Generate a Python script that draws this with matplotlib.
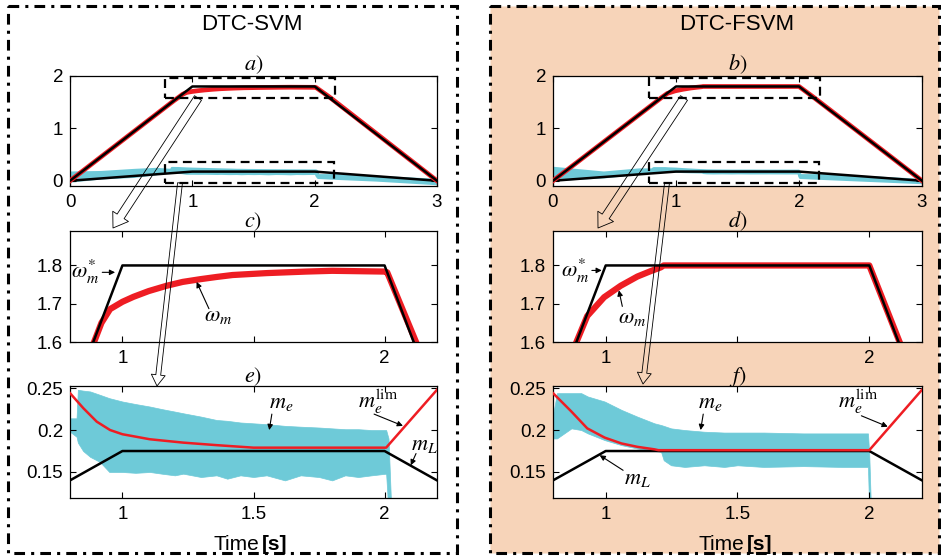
import matplotlib
matplotlib.use("Agg")
import matplotlib.pyplot as plt
from matplotlib.patches import Rectangle, FancyArrowPatch

plt.rcParams['font.family'] = ['Liberation Sans', 'DejaVu Sans']
plt.rcParams['mathtext.fontset'] = 'stix'

# ---------------- data ----------------
t_ref = [0, 1, 2, 3]
w_ref = [0, 1.8, 1.8, 0]
mL_ref = [0, 0.175, 0.175, 0]

t_w_svm = [0, 0.8, 0.85, 0.893, 0.92, 0.953, 1.0, 1.042, 1.1, 1.169, 1.23, 1.296,
           1.36, 1.42, 1.55, 1.7, 1.8, 2.0, 2.01, 2.12, 3.0]
w_svm = [0, 1.44, 1.53, 1.602, 1.65, 1.686, 1.705, 1.718, 1.733, 1.747, 1.757, 1.764,
         1.77, 1.775, 1.78, 1.784, 1.786, 1.784, 1.782, 1.6, 0.0]

t_w_fsvm = [0, 0.8, 0.85, 0.886, 0.93, 0.994, 1.057, 1.12, 1.17, 1.209, 1.22, 2.0, 2.115, 3.0]
w_fsvm = [0, 1.44, 1.53, 1.595, 1.668, 1.717, 1.747, 1.771, 1.785, 1.795, 1.8, 1.8, 1.6, 0.0]

t_lim_svm = [0.8, 0.851, 0.902, 0.953, 1.0, 1.105, 1.232, 1.359, 1.5, 1.68, 2.006, 2.2]
lim_svm = [0.244, 0.226, 0.21, 0.2, 0.195, 0.189, 0.185, 0.182, 0.179, 0.179, 0.179, 0.248]

t_lim_fsvm = [0.8, 0.87, 0.93, 0.996, 1.06, 1.12, 1.185, 1.2, 2.0, 2.2]
lim_fsvm = [0.244, 0.222, 0.202, 0.191, 0.184, 0.18, 0.177, 0.176, 0.176, 0.248]

# electromagnetic torque band (upper / lower envelope of the ripple)
t_me_svm = [0.0, 0.25, 0.52, 0.70, 0.80, 0.825, 0.83, 0.85, 0.877, 0.914, 0.95, 1.0,
            1.05, 1.105, 1.15, 1.2, 1.232, 1.3, 1.359, 1.4, 1.45, 1.5, 1.55, 1.62,
            1.68, 1.75, 1.8, 1.85, 1.9, 1.95, 2.006, 2.015, 2.025, 2.2, 2.5, 3.0]
me_up_svm = [0.16, 0.17, 0.21, 0.23, 0.214, 0.214, 0.248, 0.247, 0.246, 0.242, 0.238, 0.234,
             0.231, 0.228, 0.225, 0.222, 0.22, 0.216, 0.212, 0.211, 0.209, 0.208, 0.207, 0.205,
             0.204, 0.203, 0.202, 0.201, 0.201, 0.2, 0.2, 0.19, 0.11, 0.11, 0.08, 0.02]
me_lo_svm = [0.0, 0.06, 0.09, 0.14, 0.198, 0.192, 0.185, 0.175, 0.168, 0.162, 0.15, 0.15,
             0.149, 0.15, 0.148, 0.146, 0.148, 0.144, 0.146, 0.142, 0.146, 0.144, 0.146, 0.14,
             0.146, 0.144, 0.14, 0.146, 0.144, 0.146, 0.148, 0.10, 0.07, 0.05, 0.02, -0.05]

t_me_fsvm = [0.0, 0.41, 0.70, 0.80, 0.815, 0.87, 0.907, 0.932, 0.996, 1.06, 1.12, 1.185,
             1.21, 1.22, 1.248, 1.3, 1.374, 1.45, 1.5, 1.6, 1.75, 1.9, 1.995, 2.0, 2.006,
             2.2, 2.5, 3.0]
me_up_fsvm = [0.25, 0.16, 0.22, 0.218, 0.244, 0.244, 0.244, 0.24, 0.234, 0.224, 0.216, 0.208,
              0.206, 0.205, 0.202, 0.2, 0.198, 0.197, 0.197, 0.197, 0.196, 0.196, 0.196, 0.17, 0.11,
              0.11, 0.08, 0.02]
me_lo_fsvm = [0.03, 0.08, 0.15, 0.19, 0.19, 0.202, 0.2, 0.196, 0.188, 0.182, 0.178, 0.175,
              0.174, 0.164, 0.158, 0.156, 0.158, 0.156, 0.158, 0.156, 0.157, 0.156, 0.156, 0.10, 0.07,
              0.05, 0.02, -0.03]

RED = '#ee1d23'
CYAN = '#6ecad8'
PEACH = '#f7d4b9'

W, H = 941, 558
fig = plt.figure(figsize=(W / 100, H / 100), dpi=100)

# background (frames)
bg = fig.add_axes([0, 0, 1, 1], zorder=-1)
bg.set_xlim(0, W); bg.set_ylim(H, 0); bg.axis('off')
dashdot = (0, (3.5, 2, 1, 2))
bg.add_patch(Rectangle((8, 6), 449, 547, fill=False, ec='k', lw=2.2, ls=dashdot))
bg.add_patch(Rectangle((490, 6), 449, 547, fc=PEACH, ec='k', lw=2.2, ls=dashdot))
bg.text(252, 25, 'DTC-SVM', ha='center', va='center', fontsize=16)
bg.text(737, 25, 'DTC-FSVM', ha='center', va='center', fontsize=16)
for xr, xl in [(259, 262), (744, 747)]:
    bg.text(xr, 545, 'Time', ha='right', va='center', fontsize=15)
    bg.text(xl, 545, '[s]', ha='left', va='center', fontsize=15, fontweight='bold')


def px_axes(x0, y0, x1, y1):
    return fig.add_axes([x0 / W, 1 - y1 / H, (x1 - x0) / W, (y1 - y0) / H])


def style(ax):
    ax.tick_params(direction='in', top=True, right=True, length=4, width=0.8, labelsize=13.5)
    ax.tick_params(axis='x', pad=6)
    ax.tick_params(axis='y', pad=5)
    for s in ax.spines.values():
        s.set_linewidth(0.9)


MS = 16
ann_kw = dict(arrowprops=dict(arrowstyle='-|>', color='k', lw=0.8, mutation_scale=8, shrinkA=0, shrinkB=0))

cols = [
    dict(x0=70, x1=437, tw=t_w_svm, w=w_svm, tl=t_lim_svm, lim=lim_svm, tm=t_me_svm,
         up=me_up_svm, lo=me_lo_svm, lab=['a', 'c', 'e']),
    dict(x0=553, x1=922, tw=t_w_fsvm, w=w_fsvm, tl=t_lim_fsvm, lim=lim_fsvm, tm=t_me_fsvm,
         up=me_up_fsvm, lo=me_lo_fsvm, lab=['b', 'd', 'f']),
]

for i, c in enumerate(cols):
    # --- overview ---
    ax = px_axes(c['x0'], 76, c['x1'], 186)
    ax.fill_between(c['tm'], c['lo'], c['up'], color=CYAN, ec=CYAN, lw=2.0, zorder=1)
    ax.plot(t_ref, mL_ref, color='k', lw=1.8, zorder=2)
    ax.plot(c['tw'], c['w'], color=RED, lw=3.4, zorder=3)
    ax.plot(t_ref, w_ref, color='k', lw=1.8, zorder=4)
    ax.add_patch(Rectangle((0.78, 1.58), 1.39, 0.38, fill=False, ec='k', lw=1.6, ls=(0, (4, 2.5)), zorder=5))
    ax.add_patch(Rectangle((0.78, -0.04), 1.38, 0.40, fill=False, ec='k', lw=1.6, ls=(0, (4, 2.5)), zorder=5))
    ax.set_xlim(0, 3); ax.set_ylim(-0.1, 2.0)
    ax.set_xticks([0, 1, 2, 3]); ax.set_yticks([0, 1, 2])
    style(ax)
    ax.set_title('$%s)$' % c['lab'][0], fontsize=16, pad=4)

    # --- speed zoom ---
    ax = px_axes(c['x0'], 231, c['x1'], 342)
    ax.plot(c['tw'], c['w'], color=RED, lw=4.5, zorder=2)
    ax.plot(t_ref, w_ref, color='k', lw=1.8, zorder=3)
    ax.set_xlim(0.8, 2.2); ax.set_ylim(1.6, 1.89)
    ax.set_xticks([1, 1.5, 2]); ax.set_xticklabels(['1', '', '2'])
    ax.set_yticks([1.6, 1.7, 1.8]); ax.set_yticklabels(['1.6', '1.7', '1.8'])
    style(ax)
    ax.set_title('$%s)$' % c['lab'][1], fontsize=16, pad=3)
    if i == 0:
        ax.annotate(r'$\omega_m^{*}$', xy=(0.972, 1.782), xytext=(0.805, 1.782),
                    ha='left', va='center', fontsize=MS, **ann_kw)
        ax.text(1.31, 1.668, r'$\omega_m$', ha='left', va='center', fontsize=MS)
        ax.annotate('', xy=(1.283, 1.757), xytext=(1.33, 1.687), **ann_kw)
    else:
        ax.annotate(r'$\omega_m^{*}$', xy=(0.985, 1.787), xytext=(0.83, 1.787),
                    ha='left', va='center', fontsize=MS, **ann_kw)
        ax.text(1.045, 1.663, r'$\omega_m$', ha='left', va='center', fontsize=MS)
        ax.annotate('', xy=(1.05, 1.735), xytext=(1.063, 1.693), **ann_kw)

    # --- torque zoom ---
    ax = px_axes(c['x0'], 386, c['x1'], 498)
    ax.fill_between(c['tm'], c['lo'], c['up'], color=CYAN, lw=0.5, zorder=1)
    ax.plot(t_ref, mL_ref, color='k', lw=1.8, zorder=2)
    ax.plot(c['tl'], c['lim'], color=RED, lw=1.8, zorder=3)
    ax.set_xlim(0.8, 2.2); ax.set_ylim(0.119, 0.2525)
    ax.set_xticks([1, 1.5, 2]); ax.set_xticklabels(['1', '1.5', '2'])
    ax.set_yticks([0.15, 0.2, 0.25]); ax.set_yticklabels(['0.15', '0.2', '0.25'])
    style(ax)
    ax.set_title('$%s)$' % c['lab'][2], fontsize=16, pad=3)
    if i == 0:
        ax.text(1.56, 0.233, '$m_e$', ha='left', va='center', fontsize=MS)
        ax.annotate('', xy=(1.56, 0.2), xytext=(1.57, 0.219), **ann_kw)
        ax.text(1.9, 0.234, r'$m_e^{\mathrm{lim}}$', ha='left', va='center', fontsize=MS)
        ax.annotate('', xy=(2.07, 0.205), xytext=(1.96, 0.219), **ann_kw)
        ax.text(2.1, 0.183, '$m_L$', ha='left', va='center', fontsize=MS)
        ax.annotate('', xy=(2.1, 0.158), xytext=(2.12, 0.172), **ann_kw)
    else:
        ax.text(1.35, 0.233, '$m_e$', ha='left', va='center', fontsize=MS)
        ax.annotate('', xy=(1.36, 0.2), xytext=(1.37, 0.219), **ann_kw)
        ax.text(1.88, 0.234, r'$m_e^{\mathrm{lim}}$', ha='left', va='center', fontsize=MS)
        ax.annotate('', xy=(2.07, 0.204), xytext=(1.97, 0.217), **ann_kw)
        ax.text(1.07, 0.142, '$m_L$', ha='left', va='center', fontsize=MS)
        ax.annotate('', xy=(0.977, 0.17), xytext=(1.066, 0.152), **ann_kw)

# overlay: hollow zoom arrows
ov = fig.add_axes([0, 0, 1, 1], zorder=20)
ov.set_xlim(0, W); ov.set_ylim(H, 0); ov.axis('off')
ov.patch.set_alpha(0)
big = 'simple,head_length=1.0,head_width=1.35,tail_width=0.6'
small = 'simple,head_length=0.8,head_width=1.0,tail_width=0.35'
for (tail, head, st) in [((198, 98), (113, 228), big), ((180, 183), (157, 386), small),
                         ((684, 98), (598, 228), big), ((667, 183), (643, 384), small)]:
    ov.add_patch(FancyArrowPatch(tail, head, arrowstyle=st, mutation_scale=10,
                                 fc='none', ec='k', lw=0.6, shrinkA=0, shrinkB=0))

fig.savefig('out.png', dpi=100)
